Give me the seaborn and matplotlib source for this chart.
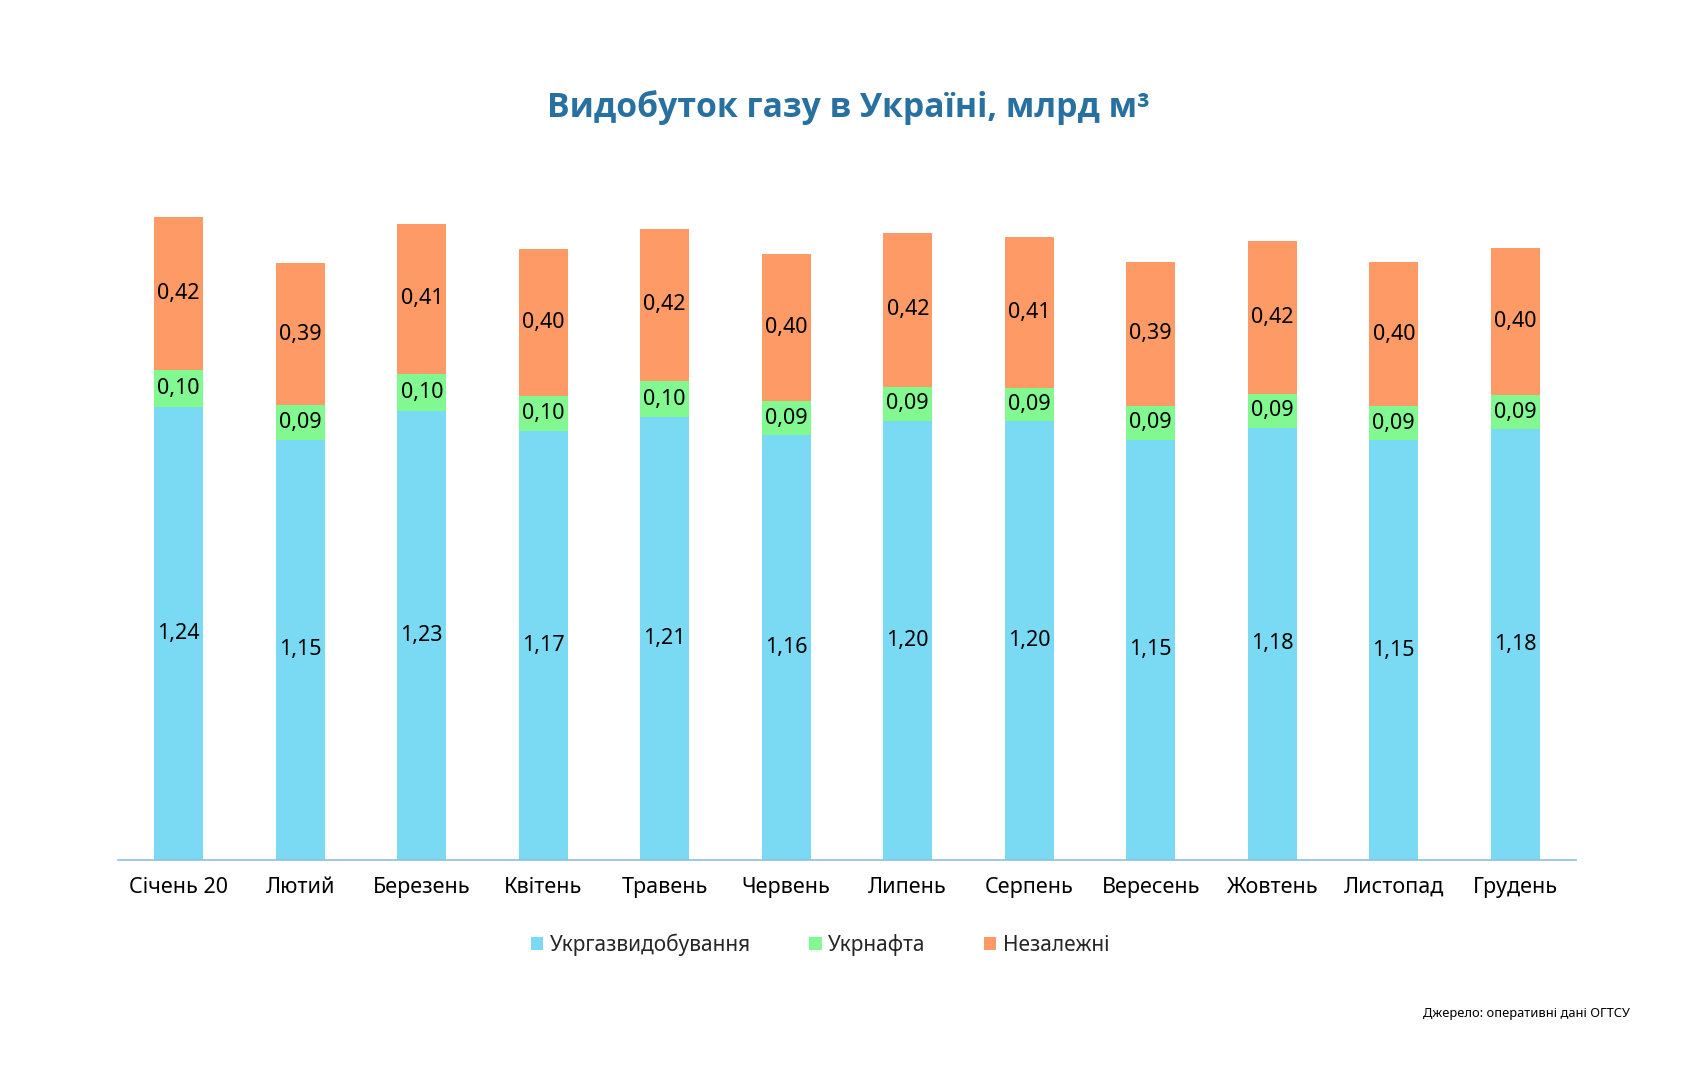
import matplotlib
matplotlib.use("Agg")
import matplotlib.pyplot as plt
from matplotlib.patches import Patch
import seaborn as sns
import pandas as pd
import numpy as np

months = ["Січень 20", "Лютий", "Березень", "Квітень", "Травень", "Червень",
          "Липень", "Серпень", "Вересень", "Жовтень", "Листопад", "Грудень"]
# values (labels show them rounded to 2 decimals)
ukrgaz = [1.240, 1.152, 1.230, 1.174, 1.214, 1.164, 1.204, 1.204, 1.152, 1.184, 1.150, 1.180]
ukrnafta = [0.102, 0.094, 0.102, 0.097, 0.098, 0.093, 0.093, 0.090, 0.093, 0.093, 0.093, 0.093]
nezal = [0.420, 0.390, 0.410, 0.404, 0.418, 0.403, 0.421, 0.413, 0.394, 0.420, 0.396, 0.403]
series_names = ["Укргазвидобування", "Укрнафта", "Незалежні"]
colors = ["#7adaf4", "#82f990", "#fe9a66"]

sns.set_theme(style="white")
plt.rcParams['font.family'] = ['Noto Sans', 'DejaVu Sans']

df = pd.DataFrame({"month": months, "a": ukrgaz, "b": ukrnafta, "c": nezal})
df["ab"] = df["a"] + df["b"]
df["abc"] = df["ab"] + df["c"]

fig = plt.figure(figsize=(16.84, 10.80), dpi=100)
ax = fig.add_axes([118/1684, 1 - 860/1080, (1576-118)/1684, 0.62])

for col, c in zip(["abc", "ab", "a"], colors[::-1]):
    sns.barplot(data=df, x="month", y=col, color=c, width=0.4, ax=ax,
                saturation=1, linewidth=0)

ax.set_ylim(0, 0.62*1080/365)
ax.set_xlim(-0.5, 11.5)

for i in range(len(months)):
    a, b, c = ukrgaz[i], ukrnafta[i], nezal[i]
    for val, mid in [(a, a/2), (b, a + b/2), (c, a + b + c/2)]:
        ax.text(i, mid, f"{val:.2f}".replace(".", ","), ha="center", va="center",
                fontsize=15.5, color="black")

for s in ["top", "right", "left"]:
    ax.spines[s].set_visible(False)
ax.spines["bottom"].set_color("#8dbfe0")
ax.spines["bottom"].set_linewidth(1.2)
ax.set_yticks([])
ax.set_xlabel("")
ax.set_ylabel("")
ax.tick_params(axis="x", length=0, labelsize=15.5, pad=12, labelcolor="black")

fig.text(848/1684, 1 - 108/1080, "Видобуток газу в Україні, млрд м³",
         ha="center", va="center", fontsize=24.3, fontweight="bold",
         color="#2870a0", family=['Open Sans', 'DejaVu Sans'])

handles = [Patch(facecolor=c, edgecolor="none") for c in colors]
fig.legend(handles, series_names, loc="center", bbox_to_anchor=(820/1684, 1 - 945/1080),
           ncol=3, frameon=False, fontsize=15, handlelength=0.6, handleheight=0.6,
           handletextpad=0.3, columnspacing=2.8)

fig.text(1630/1684, 1 - 1014/1080, "Джерело: оперативні дані ОГТСУ", ha="right",
         va="center", fontsize=9.3, color="black")

fig.savefig("out.png", dpi=100)
